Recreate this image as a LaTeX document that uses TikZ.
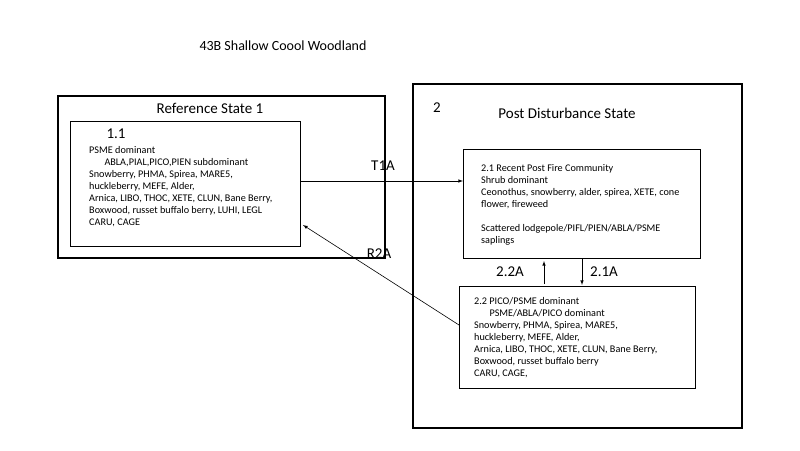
\documentclass[tikz,border=0pt]{standalone}
\usepackage{fontspec}
\setmainfont{Carlito}
\usetikzlibrary{positioning}
\tikzset{
  state/.style={draw,line width=1.3pt},
  comm/.style={draw,line width=0.9pt},
  txt/.style={align=left,anchor=north west,inner sep=0pt,font=\fontsize{10.2}{12}\selectfont},
  lbl/.style={font=\fontsize{15}{17}\selectfont},
  trans/.style={-latex,line width=0.6pt}
}
\begin{document}
\begin{tikzpicture}[x=1pt,y=-1pt]
  \useasboundingbox (0,0) rectangle (800,450);

  \node[font=\fontsize{14}{16}\selectfont] (title) at (283,46) {43B Shallow Coool Woodland};

  % reference state
  \draw[state] (58,96) rectangle (385,258);
  \node[lbl] (ref) at (210,108) {Reference State 1};
  \draw[comm] (70,121) rectangle (300,246);
  \coordinate (c11r) at (300,181);
  \coordinate (c11a) at (303,225);
  \node[lbl] (n11) at (116,134) {1.1};
  \node[txt] (t11) at (89,146) {PSME dominant\\
    \hspace{1.5em}ABLA,PIAL,PICO,PIEN subdominant\\
    Snowberry, PHMA, Spirea, MARE5,\\
    huckleberry, MEFE, Alder,\\
    Arnica, LIBO, THOC, XETE, CLUN, Bane Berry,\\
    Boxwood, russet buffalo berry, LUHI, LEGL\\
    CARU, CAGE};

  % post disturbance state
  \draw[state] (413,84) rectangle (742,428);
  \node[lbl] (n2) at (437,108) {2};
  \node[lbl] (post) at (567,113) {Post Disturbance State};
  \draw[comm] (463,149) rectangle (700,258);
  \coordinate (c21l) at (463,181);
  \node[txt] (t21) at (481,164) {2.1 Recent Post Fire Community\\
    Shrub dominant\\
    Ceonothus, snowberry, alder, spirea, XETE, cone\\
    flower, fireweed\\[\baselineskip]
    Scattered lodgepole/PIFL/PIEN/ABLA/PSME\\
    saplings};
  \draw[comm] (459,286) rectangle (695,388);
  \coordinate (c22l) at (459,325);
  \node[txt] (t22) at (474,297) {2.2 PICO/PSME dominant\\
    \hspace{1.5em}PSME/ABLA/PICO dominant\\
    Snowberry, PHMA, Spirea, MARE5,\\
    huckleberry, MEFE, Alder,\\
    Arnica, LIBO, THOC, XETE, CLUN, Bane Berry,\\
    Boxwood, russet buffalo berry\\
    CARU, CAGE,};

  % transitions
  \draw[trans] (c11r) -- (c21l);
  \node[lbl] (T1A) at (383,166) {T1A};
  \draw[trans] (c22l) -- (c11a);
  \node[lbl] (R2A) at (379,254) {R2A};
  \coordinate (u1) at (544,284);
  \coordinate (u2) at (544,261);
  \coordinate (d1) at (582,258);
  \coordinate (d2) at (582,285);
  \draw[trans] (u1) -- (u2);
  \draw[trans] (d1) -- (d2);
  \node[lbl] (l22A) at (510,272) {2.2A};
  \node[lbl] (l21A) at (604,272) {2.1A};
\end{tikzpicture}
\end{document}
